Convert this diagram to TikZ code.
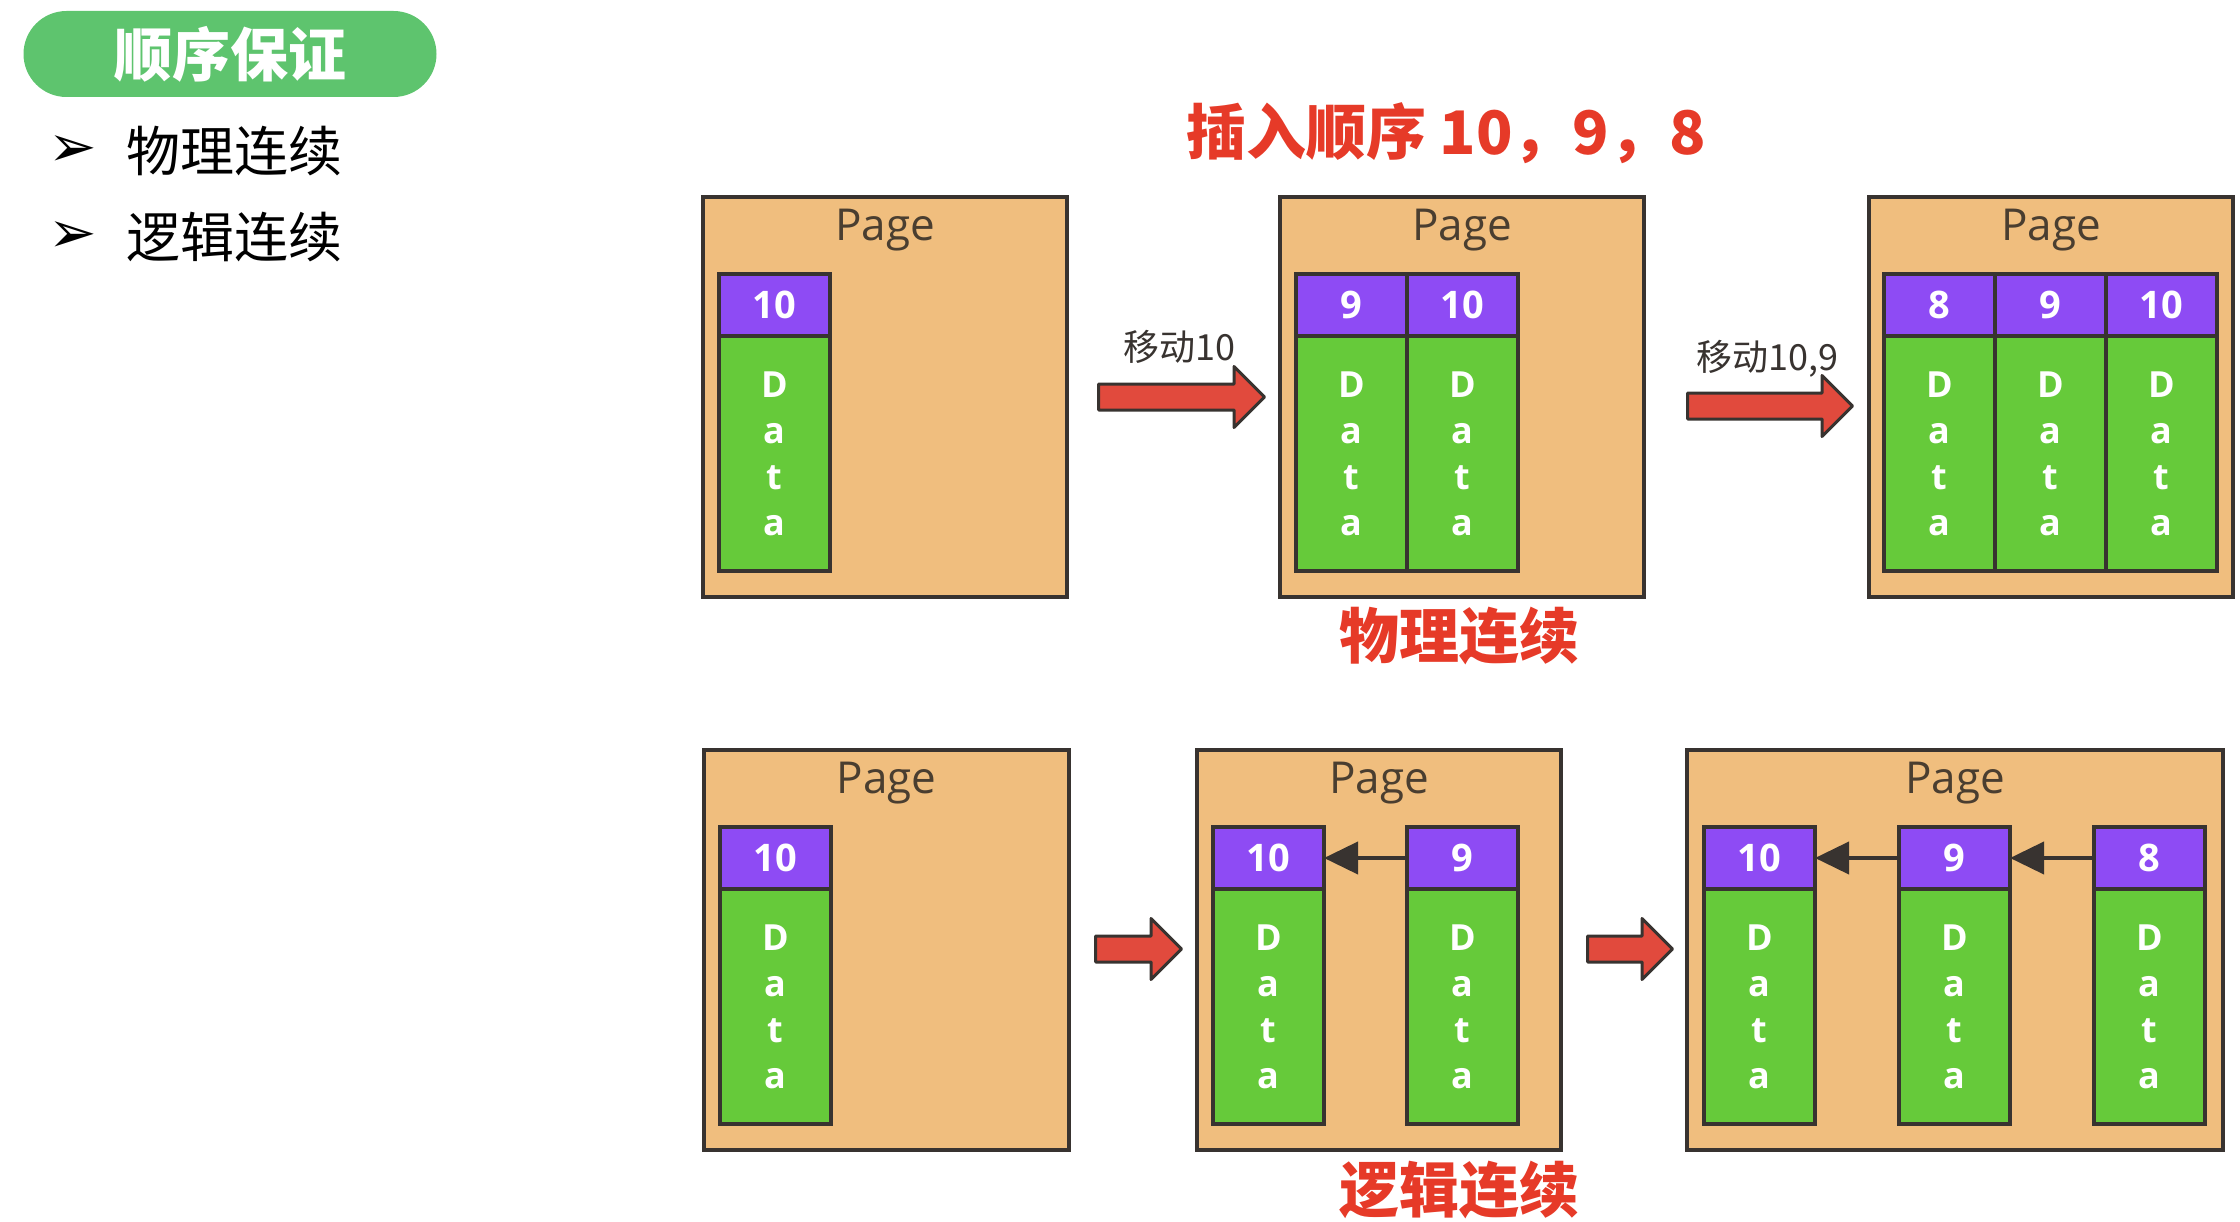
\documentclass[tikz,border=0pt]{standalone}
\usepackage{fontspec}
\usepackage{tikz}
\usetikzlibrary{shapes, arrows.meta, positioning}
\setmainfont{Open Sans}
\newfontfamily\cjk{Noto Sans CJK SC}
\newfontfamily\symfont{DejaVu Sans}

\definecolor{pagefill}{HTML}{F0BE7E}
\definecolor{edgegray}{HTML}{383330}
\definecolor{keypurple}{HTML}{8E4BF4}
\definecolor{datagreen}{HTML}{66CA3A}
\definecolor{arrowred}{HTML}{E14A3D}
\definecolor{titlered}{HTML}{E63A28}
\definecolor{pillgreen}{HTML}{5EC46E}
\definecolor{pagetext}{HTML}{4A3E30}

\tikzset{
  pill/.style={fill=pillgreen, rounded corners=43pt, minimum width=413pt, minimum height=86pt, text=white, font=\cjk\bfseries\fontsize{58}{58}\selectfont},
  bullet/.style={anchor=west, inner sep=0pt, font=\symfont\fontsize{58}{58}\selectfont},
  itemlbl/.style={inner sep=0pt, font=\cjk\fontsize{54}{54}\selectfont},
  page/.style={draw=edgegray, fill=pagefill, line width=4pt, anchor=north west, outer sep=0pt, minimum height=400pt},
  pagelbl/.style={inner sep=0pt, text=pagetext, font=\fontsize{44}{44}\selectfont},
  keybox/.style={draw=edgegray, fill=keypurple, line width=3.5pt, minimum width=111pt, minimum height=62pt, inner sep=0pt, outer sep=0pt, text=white, font=\bfseries\fontsize{38}{38}\selectfont},
  databox/.style={draw=edgegray, fill=datagreen, line width=3.5pt, minimum width=111pt, minimum height=235pt, inner sep=0pt, outer sep=0pt, text=white, align=center, font=\bfseries\fontsize{36}{46}\selectfont},
  fatarrow/.style={single arrow, draw=edgegray, fill=arrowred, line width=3pt, line join=round, inner xsep=0pt, inner ysep=11.5pt, minimum width=58pt, single arrow head extend=17.5pt, single arrow head indent=0pt, anchor=tail},
  link/.style={draw=edgegray, line width=4pt, -{Triangle[length=34pt, width=32pt]}},
  movelbl/.style={text=edgegray, font=\cjk\fontsize{36}{36}\selectfont},
  redlbl/.style={text=titlered, font=\cjk\bfseries\fontsize{60}{60}\selectfont},
}

\begin{document}
\begin{tikzpicture}[x=1pt, y=-1pt]
\useasboundingbox (0,0) rectangle (2240,1222);

% heading and list
\node[pill] (ttl) at (230,54) {顺序保证};
\node[bullet] (bul1) at (48,151) {➢};
\node[itemlbl, anchor=west] (it1) at (126,151) {物理连续};
\node[bullet] (bul2) at (48,237) {➢};
\node[itemlbl, anchor=west] (it2) at (126,237) {逻辑连续};

% physical order
\node[redlbl] (ins) at (1446,133) {插入顺序 10，9，8};
\node[page, minimum width=364pt] (pgA) at (703,197) {};
\node[page, minimum width=364pt] (pgB) at (1280,197) {};
\node[page, minimum width=364pt] (pgC) at (1869,197) {};
\node[pagelbl, below=12pt of pgA.north] (lblA) {Page};
\node[pagelbl, below=12pt of pgB.north] (lblB) {Page};
\node[pagelbl, below=12pt of pgC.north] (lblC) {Page};

\node[keybox, anchor=north west] (kA1) at (719,274) {10};
\node[databox, below=0pt of kA1] (dA1) {D\\a\\t\\a};

\node[keybox, anchor=north west] (kB1) at (1296,274) {9};
\node[keybox, right=0pt of kB1] (kB2) {10};
\node[databox, below=0pt of kB1] (dB1) {D\\a\\t\\a};
\node[databox, below=0pt of kB2] (dB2) {D\\a\\t\\a};

\node[keybox, anchor=north west] (kC1) at (1884,274) {8};
\node[keybox, right=0pt of kC1] (kC2) {9};
\node[keybox, right=0pt of kC2] (kC3) {10};
\node[databox, below=0pt of kC1] (dC1) {D\\a\\t\\a};
\node[databox, below=0pt of kC2] (dC2) {D\\a\\t\\a};
\node[databox, below=0pt of kC3] (dC3) {D\\a\\t\\a};

\node[fatarrow, minimum height=166pt] (mvA) at (1097,397) {};
\node[movelbl] (mvAl) at (1179,347) {移动10};
\node[fatarrow, minimum height=165pt] (mvB) at (1686,406) {};
\node[movelbl] (mvBl) at (1767,359) {移动10,9};
\node[redlbl] (phys) at (1459,636) {物理连续};

% logical order
\node[page, minimum width=365pt] (pgD) at (704,750) {};
\node[page, minimum width=364pt] (pgE) at (1197,750) {};
\node[page, minimum width=536pt] (pgF) at (1687,750) {};
\node[pagelbl, below=12pt of pgD.north] (lblD) {Page};
\node[pagelbl, below=12pt of pgE.north] (lblE) {Page};
\node[pagelbl, below=12pt of pgF.north] (lblF) {Page};

\node[keybox, anchor=north west] (kD1) at (720,827) {10};
\node[databox, below=0pt of kD1] (dD1) {D\\a\\t\\a};

\node[keybox, anchor=north west] (kE1) at (1213,827) {10};
\node[keybox, anchor=north west] (kE2) at (1407,827) {9};
\node[databox, below=0pt of kE1] (dE1) {D\\a\\t\\a};
\node[databox, below=0pt of kE2] (dE2) {D\\a\\t\\a};

\node[keybox, anchor=north west] (kF1) at (1704,827) {10};
\node[keybox, anchor=north west] (kF2) at (1899,827) {9};
\node[keybox, anchor=north west] (kF3) at (2094,827) {8};
\node[databox, below=0pt of kF1] (dF1) {D\\a\\t\\a};
\node[databox, below=0pt of kF2] (dF2) {D\\a\\t\\a};
\node[databox, below=0pt of kF3] (dF3) {D\\a\\t\\a};

\draw[link] (kE2.west) -- (kE1.east);
\draw[link] (kF2.west) -- (kF1.east);
\draw[link] (kF3.west) -- (kF2.east);

\node[fatarrow, minimum height=86pt] (mvD) at (1094,949) {};
\node[fatarrow, minimum height=85pt] (mvE) at (1586,949) {};
\node[redlbl] (logi) at (1459,1190) {逻辑连续};
\end{tikzpicture}
\end{document}
